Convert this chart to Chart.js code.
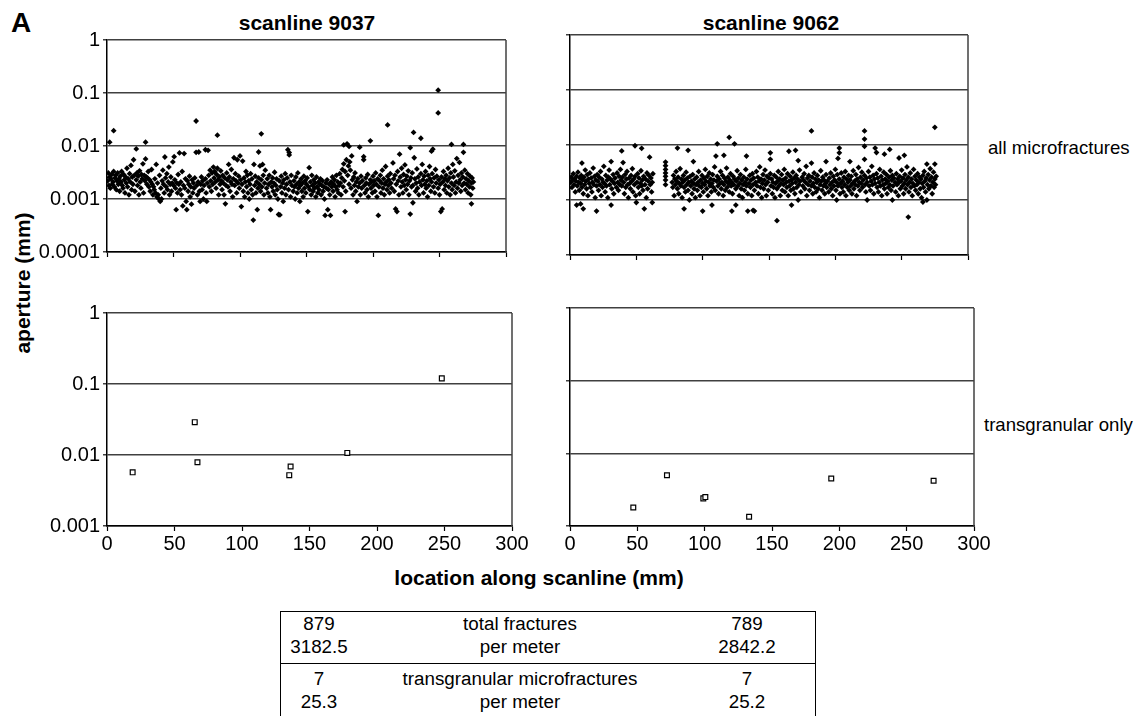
<!DOCTYPE html>
<html>
<head>
<meta charset="utf-8">
<script src="https://cdn.jsdelivr.net/npm/chart.js@4.4.0/dist/chart.umd.min.js"></script>
<style>
  body { margin: 0; background: #fff; font-family: "Liberation Sans", Arial, sans-serif; color: #000; }
  #page { position: relative; width: 1143px; height: 716px; overflow: hidden; }
  .panel { position: absolute; }
  .lbl { position: absolute; white-space: nowrap; line-height: 1; }
  .c { transform: translate(-50%, -50%); }
  #table { position: absolute; left: 280px; top: 611px; width: 534px; height: 120px; border: 1px solid #000; }
  .grp { position: relative; }
  .row { position: relative; height: 23px; font-size: 18.8px; line-height: 23px; }
  .row span { position: absolute; top: 0; text-align: center; }
</style>
</head>
<body>
<div id="page">
  <div class="lbl" style="left:11px; top:9px; font-size:28px; font-weight:bold;">A</div>
  <div class="lbl c" style="left:307px; top:22px; font-size:21px; font-weight:bold;">scanline 9037</div>
  <div class="lbl c" style="left:771px; top:22px; font-size:21px; font-weight:bold;">scanline 9062</div>
  <div class="lbl" style="left:988px; top:139px; font-size:18.6px;">all microfractures</div>
  <div class="lbl" style="left:984px; top:416px; font-size:18.6px;">transgranular only</div>
  <div class="lbl c" style="left:22px; top:283px; font-size:21px; font-weight:bold; transform: translate(-50%, -50%) rotate(-90deg);">aperture (mm)</div>
  <div class="lbl c" style="left:539px; top:577px; font-size:21px; font-weight:bold;">location along scanline (mm)</div>

  <div class="panel" style="left:0px; top:25px;"><canvas id="c9037all" width="516" height="242"></canvas></div>
  <div class="panel" style="left:550px; top:25px;"><canvas id="c9062all" width="428" height="242"></canvas></div>
  <div class="panel" style="left:0px; top:298px;"><canvas id="c9037tg" width="532" height="258"></canvas></div>
  <div class="panel" style="left:550px; top:298px;"><canvas id="c9062tg" width="444" height="258"></canvas></div>

  <div id="table"></div>
</div>

<script>
// location (mm), aperture (mm)
const all9037 = [
  [0.5,.0022],[1,.0031],[1.5,.0018],[2,.0118],[2,.0026],[2.5,.0016],[3,.0024],[3.5,.0029],[4,.0019],[4.5,.0021],[5,.0195],[5,.0033],
  [5.5,.0017],[6,.0025],[6.5,.0028],[7,.0015],[7.5,.0022],[8,.0031],[8.5,.0019],[9,.0024],[9.5,.0014],[10,.0027],
  [10.5,.0021],[11,.0033],[11.5,.0018],[12,.0016],[12.5,.0029],[13,.0023],[13.5,.0013],[14,.0026],[14.5,.0020],[15,.0038],
  [15.5,.0017],[16,.0024],[16.5,.0012],[17,.0030],[17.5,.0021],[18,.0043],[18.5,.0015],[19,.0026],[19.5,.0019],[20,.0055],
  [20.5,.0028],[21,.0014],[22,.0088],[22,.0023],[22.5,.0031],[23,.0018],[23.5,.0027],[24,.0012],[24.5,.0034],[25,.0021],
  [25.5,.0016],[26,.0029],[26.5,.0024],[27,.0046],[27.5,.0013],[28,.0028],[28.5,.0022],[29,.0118],[29,.0057],[29.5,.0026],[30,.0019],
  [30.5,.0025],[31,.0033],[31.5,.0017],[32,.0023],[32.5,.0014],[33,.0021],[33.5,.0036],[34,.0019],[34.5,.0012],[35,.0017],
  [35.5,.0015],[36,.0024],[36.5,.0013],[37,.0045],[37.5,.0011],[38,.0020],[38.5,.0012],[39,.0010],[39.5,.0028],[40,.0009],
  [40.5,.0016],[41,.0010],[41.5,.0022],[42,.0035],[42.5,.0019],[43,.0013],[43.5,.0062],[44,.0025],[44.5,.0017],[45,.0030],
  [45.5,.0015],[46,.0021],[46.5,.0040],[47,.0012],[47.5,.0019],[48,.0026],[48.5,.0014],[49,.0020],[49.5,.0050],[50,.0018],
  [50.5,.0063],[51,.0023],[51.5,.0016],[52,.00063],[52.5,.0020],[53,.0013],[53.5,.0029],[54,.0019],[54.5,.0074],[55,.0015],
  [55.5,.0021],[56,.0012],[56.5,.0033],[57,.00074],[57.5,.0018],[58,.0072],[58.5,.0016],[59,.0024],[59.5,.0009],[60,.00063],
  [60.5,.0022],[61,.0014],[61.5,.0019],[62,.0027],[62.5,.0011],[63,.0017],[63.5,.0008],[64,.0023],[64.5,.0013],[65,.0020],
  [65.5,.0016],[66,.0025],[67,.0296],[67,.0076],[67.5,.0018],[68,.0012],[68.5,.0021],[69,.0077],[69.5,.0014],[70,.0009],
  [70.5,.0019],[71,.0026],[71.5,.0015],[72,.0022],[72.5,.0010],[73,.0018],[74,.0085],[74,.0024],[74.5,.0013],[75,.0009],
  [75.5,.0020],[76,.0083],[76.5,.0028],[77,.0017],[77.5,.0035],[78,.0022],[78.5,.0014],[79,.0031],[79.5,.0019],[80,.0040],
  [80.5,.0025],[81,.0033],[81.5,.0021],[82,.0016],[82.5,.0029],[83,.016],[83,.0038],[83.5,.0023],[84,.0012],[84.5,.0026],[85,.0019],
  [85.5,.0034],[86,.0022],[86.5,.0015],[87,.0028],[87.5,.0020],[88,.0012],[88.5,.0025],[89,.00081],[89.5,.0018],[90,.0031],
  [90.5,.0023],[91,.0017],[91.5,.0045],[92,.0026],[92.5,.0014],[93,.0021],[93.5,.0036],[94,.0019],[94.5,.0011],[95,.0024],
  [95.5,.0060],[96,.0018],[96.5,.0030],[97,.0022],[97.5,.0013],[98,.0055],[98.5,.0020],[99,.0027],[99.5,.0016],[100,.0065],
  [100.5,.0023],[101,.00072],[101.5,.0019],[102,.0052],[102.5,.0014],[103,.0025],[103.5,.0011],[104,.0021],[104.5,.0033],[105,.0017],
  [105.5,.0028],[106,.0013],[106.5,.0022],[107,.0010],[107.5,.0019],[108,.0030],[108.5,.0015],[109,.0024],[109.5,.0012],[110,.0004],
  [110.5,.0045],[111,.0018],[111.5,.0027],[112,.0013],[112.5,.0021],[113,.00063],[113.5,.0016],[114,.0077],[114,.0025],[114.5,.0019],[115,.0042],
  [115.5,.0014],[116,.017],[116,.0023],[116.5,.0017],[117,.0045],[117.5,.0028],[118,.0012],[118.5,.0020],[119,.0035],[120,.0016],
  [120.5,.0024],[121,.0013],[121.5,.0019],[122,.0028],[122.5,.0011],[123,.00063],[123.5,.0021],[124,.0017],[124.5,.0025],[125,.0014],
  [125.5,.0020],[126,.0032],[126.5,.0012],[127,.0018],[127.5,.0024],[128,.0015],[128.5,.0010],[129,.00051],[129.5,.0022],[130,.0005],
  [130.5,.0017],[131,.0027],[131.5,.0013],[132,.0020],[132.5,.0009],[133,.0023],[133.5,.0016],[134,.0030],[134.5,.0012],[135,.0019],
  [135.5,.0025],[136,.0085],[136.5,.0015],[137,.0075],[137,.0068],[137.5,.0021],[138,.0011],[138.5,.0028],[139,.0018],[140,.0014],
  [140.5,.0022],[141,.0017],[141.5,.0010],[142,.0026],[142.5,.0019],[143,.0013],[143.5,.0031],[144,.0016],[144.5,.0021],[145,.0009],
  [145.5,.0018],[146,.0024],[146.5,.0014],[147,.0020],[147.5,.0011],[148,.0027],[148.5,.0016],[149,.0022],[149.5,.0013],[150,.0019],
  [150.5,.0025],[151,.00058],[151.5,.0017],[152,.0039],[152.5,.0015],[153,.0021],[153.5,.0012],[154,.0028],[154.5,.0018],[155,.0014],
  [155.5,.0023],[156,.0016],[156.5,.0020],[157,.0011],[157.5,.0026],[158,.0017],[158.5,.0013],[159,.0021],[159.5,.0015],[160,.0019],
  [160.5,.0024],[161,.0012],[161.5,.0018],[162,.0022],[162.5,.0014],[163,.0017],[163.5,.0010],[164,.00049],[164.5,.0020],[165,.0016],
  [165.5,.0023],[166,.00063],[166.5,.0015],[167,.0019],[167.5,.0012],[168,.00049],[168.5,.0021],[169,.0017],[169.5,.0026],[170,.0014],
  [170.5,.0019],[171,.0023],[171.5,.0011],[172,.0017],[172.5,.0028],[173,.0015],[173.5,.0021],[174,.0013],[174.5,.0018],[175,.0030],
  [175.5,.0020],[176,.0012],[176.5,.0025],[177,.0036],[177.5,.0017],[178,.0105],[178,.0046],[178.5,.0022],[179,.00058],[179,.0033],[179.5,.0014],[180,.0055],
  [180.5,.0110],[181,.0028],[181.5,.0042],[182,.0098],[182,.0019],[182.5,.0050],[183,.0035],[183.5,.0016],[184,.0065],[184.5,.0023],[185,.0012],
  [185.5,.0026],[186,.0018],[186.5,.0031],[187,.0014],[187.5,.0021],[188,.0009],[188.5,.0024],[189,.0017],[190,.0095],[190,.0020],
  [190.5,.0012],[191,.0027],[191.5,.0016],[192,.0022],[193,.0063],[193,.0055],[193.5,.0018],[194,.0013],[194.5,.0025],[195,.0020],
  [195.5,.0015],[196,.0029],[196.5,.0011],[197,.0019],[198,.0125],[198,.0023],[198.5,.0016],[199,.0021],[199.5,.0013],[200,.0027],
  [200.5,.0018],[201,.0022],[201.5,.0014],[202,.0031],[202.5,.0019],[203,.0011],[203.5,.0024],[204,.00049],[204.5,.0017],[205,.0022],
  [205.5,.0028],[206,.0013],[206.5,.0020],[207,.0035],[207.5,.0016],[208,.0024],[208.5,.0012],[209,.0019],[209.5,.0041],[210,.0021],
  [210.5,.0015],[211,.025],[211,.0027],[211.5,.0018],[212,.0023],[212.5,.0013],[213,.0030],[213.5,.0020],[214,.0016],[215,.0048],
  [215.5,.0024],[216,.0014],[216.5,.0028],[217,.00065],[217.5,.0019],[218,.00058],[218.5,.0033],[219,.0022],[219.5,.0012],[220,.0070],
  [220.5,.0026],[221,.0017],[221.5,.0038],[222,.0021],[222.5,.0013],[223,.0029],[223.5,.0018],[224,.0044],[224.5,.0023],[225,.0015],
  [225.5,.0027],[226,.0019],[226.5,.0034],[227,.0012],[227.5,.0022],[228,.0093],[228,.00052],[228.5,.0025],[229,.0017],[229.5,.0031],[230,.0018],
  [230,.00085],[230.5,.018],[231,.0060],[231.5,.0024],[232,.0014],[232.5,.0020],[233,.0037],[233.5,.0016],[234,.0026],[234.5,.0012],[235,.0021],
  [236,.014],[236,.0030],[236.5,.0018],[237,.0045],[237.5,.0023],[238,.0013],[238.5,.0027],[239,.0019],[239.5,.0033],[240,.0016],
  [240.5,.0022],[241,.0011],[241.5,.0028],[242,.0018],[242.5,.0041],[243,.0024],[243.5,.0014],[244,.0080],[244,.0021],[244.5,.0030],[245,.0087],
  [245.5,.0017],[246,.0025],[246.5,.0013],[247,.0036],[247.5,.0020],[248,.0027],[249,.113],[249,.042],[249,.0016],[249.5,.0023],[250,.0012],
  [250.5,.0019],[251,.00058],[251.5,.0026],[252,.00065],[252.5,.0021],[253,.0033],[253.5,.0015],[254,.0024],[254.5,.0018],[255,.0028],
  [255.5,.0013],[256,.0022],[256.5,.0038],[257,.0017],[257.5,.0025],[258,.0012],[258.5,.0031],[259,.0107],[259,.0020],[259.5,.0015],[260,.0045],
  [260.5,.0026],[261,.0018],[261.5,.0034],[262,.0013],[262.5,.0021],[263,.0058],[263.5,.0016],[264,.0028],[264.5,.0020],[265,.0049],
  [265.5,.0023],[266,.0014],[266.5,.0031],[267,.0018],[267.5,.0026],[268,.0107],[268,.0076],[268.5,.0020],[269,.0035],[269.5,.0015],[270,.0024],
  [270.5,.0019],[271,.0030],[271.5,.0013],[272,.0022],[272.5,.0017],[273,.0027],[273.5,.0012],[274,.00081],[274,.0020],[274.5,.0025],[275,.0016],[275.5,.0021]
];

const all9062 = [
  [0.5,.0021],[1,.0026],[1.5,.0017],[2,.0023],[2.5,.0030],[3,.0019],[3.5,.0024],[4,.0014],[4.5,.0022],[5,.00081],[5,.0027],
  [5.5,.0018],[6,.0032],[6.5,.0021],[7,.0015],[7.5,.0025],[8,.00085],[8,.0020],[8.5,.0028],[9,.0047],[9,.0017],[9.5,.0023],[10,.00069],[10,.0013],
  [10.5,.0026],[11,.0019],[11.5,.0035],[12,.0022],[12.5,.0016],[13,.0029],[13.5,.0012],[14,.0024],[14.5,.0020],[15,.0031],
  [15.5,.0017],[16,.0025],[16.5,.0014],[17,.0021],[17.5,.0038],[18,.0019],[18.5,.0027],[19,.0011],[19.5,.0023],[20,.00063],[20,.0018],
  [20.5,.0029],[21,.0022],[21.5,.0015],[22,.0026],[22.5,.0019],[23,.0033],[23.5,.0012],[24,.0024],[24.5,.0017],[25,.0021],
  [25.5,.0041],[26,.0020],[26.5,.0014],[27,.0028],[27.5,.0018],[28,.0023],[28.5,.0011],[29,.0026],[29.5,.0035],[30,.0019],
  [30.5,.0024],[31,.0050],[31,.00081],[31.5,.0016],[32,.0022],[32.5,.0029],[33,.0013],[33.5,.0020],[34,.0025],[35,.0017],
  [35.5,.0031],[36,.0021],[36.5,.0015],[37,.0027],[37.5,.0019],[38,.0036],[38.5,.0023],[39,.0078],[39,.0018],[39.5,.0026],[40,.0048],
  [40.5,.0021],[41,.0013],[41.5,.0029],[42,.0017],[42.5,.0024],[43,.0033],[43.5,.0019],[44,.0011],[44.5,.0025],[45,.0020],
  [45.5,.0016],[46,.0028],[46.5,.0022],[47,.0037],[47.5,.0014],[48,.0024],[48.5,.0019],[49,.0097],[49,.0027],[49.5,.0012],[50,.0009],
  [50.5,.0021],[51,.0030],[51.5,.0017],[52,.0025],[52.5,.0013],[53,.0020],[53.5,.0034],[54,.0087],[54,.0018],[54.5,.0023],[55,.0015],
  [55.5,.0027],[56,.00069],[56.5,.0019],[57,.0024],[57.5,.0011],[58,.0031],[58.5,.0016],[59,.0022],[59.5,.0028],[60,.0060],
  [60.5,.0019],[61,.0025],[61.5,.0014],[62,.0009],[62,.0021],[62.5,.0030],
  [72,.0049],[72,.0042],[72,.0036],[72,.0031],[72,.0027],[72,.0023],[72,.0019],
  [77,.0021],[77.5,.0017],[78,.0028],[78.5,.0012],[79,.0024],[79.5,.0019],[80,.0033],
  [80.5,.0022],[81,.0088],[81,.0016],[81.5,.0026],[82,.0013],[82.5,.0020],[83,.0037],[83.5,.0018],[84,.0024],[84.5,.0011],[85,.0021],
  [85.5,.0028],[86,.00069],[86,.0017],[86.5,.0023],[87,.0014],[87.5,.0032],[88,.0019],[88.5,.0025],[89,.0080],[89,.0015],[89.5,.0021],[90,.0010],
  [90.5,.0027],[91,.0018],[91.5,.0022],[92,.0013],[92.5,.0029],[93,.0050],[93,.0020],[93.5,.0016],[94,.0024],[94.5,.0011],[95,.0019],
  [95.5,.0026],[96,.0015],[96.5,.0021],[97,.0033],[97.5,.0018],[98,.0012],[98.5,.0023],[99,.0017],[99.5,.0028],[100,.00063],[100,.0020],
  [100.5,.0014],[101,.0025],[101.5,.0019],[102,.0036],[102.5,.0022],[103,.0016],[103.5,.0027],[104,.0012],[104.5,.0021],[105,.0031],
  [105.5,.0018],[106,.0024],[106.5,.0014],[107,.00081],[107,.0020],[107.5,.0029],[108,.0017],[108.5,.0023],[109,.0040],[109.5,.0015],[110,.0063],
  [110.5,.0022],[111,.0105],[111,.0027],[111.5,.0018],[112,.0013],[112.5,.0024],[113,.0020],[113.5,.0033],[114,.0016],[114.5,.0021],[115,.0028],
  [115.5,.0012],[116,.0065],[116,.0019],[116.5,.0025],[117,.0015],[117.5,.0022],[118,.0038],[118.5,.0017],[119,.0026],[119.5,.0020],[120,.0138],
  [120,.0014],[120.5,.0023],[121,.0030],[121.5,.0018],[122,.00063],[122,.0021],[122.5,.0013],[123,.0027],[123.5,.0019],[124,.0105],[124,.0024],[125,.00081],[125,.0016],
  [125.5,.0022],[126,.0034],[126.5,.0018],[127,.0025],[127.5,.0012],[128,.0020],[128.5,.0029],[129,.0016],[129.5,.0023],[130,.0011],
  [130.5,.0019],[131,.0026],[131.5,.0015],[132,.0021],[132.5,.0036],[133,.0063],[133,.0018],[133.5,.0024],[134,.00063],[134,.0013],[135,.0020],
  [135.5,.0028],[136,.0017],[136.5,.0023],[137,.0012],[137.5,.0030],[138,.00065],[138,.0019],[138.5,.0025],[139,.00063],[139,.0015],[140,.0021],
  [140.5,.0033],[141,.0018],[141.5,.0026],[142,.0013],[142.5,.0022],[143,.0040],[143.5,.0017],[144,.0024],[144.5,.0011],[145,.0020],
  [145.5,.0029],[146,.0016],[146.5,.0023],[147,.0035],[147.5,.0019],[148,.0012],[148.5,.0027],[149,.0021],[149.5,.0015],[150,.0025],
  [151,.0072],[151,.0055],[151,.0030],[151.5,.0018],[152,.0024],[152.5,.0013],[153,.0021],[153.5,.0017],[154,.0028],[154.5,.0011],[155,.0020],
  [155.5,.0026],[156,.00042],[156,.0016],[156.5,.0022],[157,.0033],[157.5,.0018],[158,.0024],[158.5,.0012],[159,.0020],[159.5,.0029],[160,.0015],
  [160.5,.0023],[161,.0019],[161.5,.0036],[162,.0014],[162.5,.0025],[163,.0021],[163.5,.0017],[164,.0030],[164.5,.0012],[165,.0077],[165,.0022],
  [165.5,.0018],[166,.0027],[166.5,.0015],[167,.00081],[167,.0023],[167.5,.0020],[168,.0032],[168.5,.0016],[169,.0025],[169.5,.0013],[170,.0080],
  [170,.0021],[170.5,.0028],[171,.0017],[171.5,.0024],[172,.0052],[172,.0010],[172.5,.0019],[173,.0035],[173.5,.0022],[174,.0014],[175,.0026],
  [175.5,.0018],[176,.0023],[176.5,.0030],[177,.0016],[177.5,.0021],[178,.0041],[178.5,.0012],[179,.0025],[179.5,.0019],[180,.0028],
  [180.5,.0015],[181,.0022],[182,.018],[182,.0047],[182,.0018],[182.5,.0026],[183,.0013],[183.5,.0020],[184,.0031],[184.5,.0017],[185,.0024],
  [185.5,.0014],[186,.0021],[186.5,.0028],[187,.0016],[187.5,.0023],[188,.0011],[188.5,.0019],[189,.0034],[189.5,.0022],[190,.0015],
  [190.5,.0026],[191,.0018],[191.5,.0023],[192,.0013],[192.5,.0020],[193,.0050],[193,.0029],[193.5,.0017],[194,.0022],[195,.0014],
  [195.5,.0025],[196,.0019],[196.5,.0031],[197,.0016],[197.5,.0021],[198,.0012],[198.5,.0027],[199,.0018],[199.5,.0023],[200,.0036],
  [200.5,.0015],[201,.0010],[201,.0021],[201.5,.0029],[202,.0057],[202,.0018],[203,.0088],[203,.0072],[203,.0024],[203.5,.0013],[204,.0020],[204.5,.0031],[205,.0017],
  [205.5,.0022],[206,.0014],[206.5,.0026],[207,.0019],[207.5,.0033],[208,.0012],[208.5,.0024],[209,.0017],[209.5,.0021],[210,.0028],
  [210.5,.0015],[211,.0050],[211,.0023],[211.5,.0018],[212,.0027],[212.5,.0013],[213,.0020],[213.5,.0034],[214,.0016],[214.5,.0022],[215,.0019],
  [215.5,.0029],[216,.0012],[216.5,.0024],[217,.0018],[217.5,.0039],[218,.0021],[218.5,.0015],[219,.0026],[219.5,.0020],[220,.0032],
  [220.5,.0017],[221,.0023],[222,.018],[222,.0128],[222,.0095],[222,.0055],[222,.0028],[222.5,.0019],[223,.0014],[223.5,.0025],[224,.0010],[224,.0021],[225,.0033],
  [225.5,.0018],[226,.0026],[226.5,.0015],[227,.0022],[227.5,.0041],[228,.0019],[228.5,.0028],[229,.0013],[229.5,.0024],[230,.0088],
  [230,.0020],[231,.0073],[231,.0030],[231.5,.0017],[232,.0025],[232.5,.0014],[233,.0021],[233.5,.0036],[234,.0018],[234.5,.0027],[235,.0012],
  [235.5,.0023],[236,.0019],[236.5,.0032],[237,.0068],[237,.0016],[237.5,.0024],[238,.0020],[238.5,.0029],[239,.0013],[239.5,.0022],[240,.0017],
  [240.5,.0026],[241,.0083],[241,.0019],[241.5,.0034],[242,.0015],[242.5,.0023],[243,.0010],[243,.0028],[243.5,.0018],[244,.0025],[245,.0021],
  [245.5,.0014],[246,.0030],[246.5,.0019],[247,.0024],[247.5,.0012],[248,.0058],[248,.0021],[248.5,.0027],[249,.0016],[249.5,.0022],[250,.0035],
  [250.5,.0018],[251,.0025],[251.5,.0013],[252,.0065],[252,.0020],[252.5,.0029],[253,.0016],[253.5,.0023],[254,.0040],[254.5,.0019],[255,.00049],[255,.0026],
  [255.5,.0014],[256,.0021],[256.5,.0031],[257,.0017],[257.5,.0024],[258,.0012],[258.5,.0020],[259,.0036],[259.5,.0018],[260,.0027],
  [260.5,.0015],[261,.0023],[261.5,.0019],[262,.0030],[262.5,.0013],[263,.0021],[263.5,.0026],[264,.0016],[264.5,.0024],[265,.0011],
  [265.5,.0020],[266,.00092],[266,.0028],[266.5,.0017],[267,.0033],[267.5,.0022],[268,.0014],[268.5,.0025],[269,.0045],[269,.0010],[269.5,.0019],[270,.0029],
  [270.5,.0016],[271,.0023],[271.5,.0037],[272,.0018],[272.5,.0026],[273,.0013],[273.5,.0021],[274,.0032],[274.5,.0017],[275,.021],[275,.0045],[275,.0024],[275.5,.0019],[276,.0027]
];

// transgranular microfractures only
const tg9037 = [[19, 0.0057], [65, 0.029], [67, 0.0079], [135, 0.0052], [136, 0.0069], [178, 0.0107], [248, 0.12]];
const tg9062 = [[47, 0.0018], [72, 0.0050], [99, 0.0024], [100.5, 0.0025], [133, 0.00134], [194, 0.0045], [270, 0.0042]];

const xTicks = [0, 50, 100, 150, 200, 250, 300];
const yTicksAll = [0.0001, 0.001, 0.01, 0.1, 1];
const yTicksTg = [0.001, 0.01, 0.1, 1];

const tableLabels = ['total fractures', 'per meter', 'transgranular microfractures', 'per meter'];
const counts9037 = ['879', '3182.5', '7', '25.3'];
const counts9062 = ['789', '2842.2', '7', '25.2'];

Chart.defaults.font.family = '"Liberation Sans", Arial, sans-serif';
Chart.defaults.font.size = 20;
Chart.defaults.color = '#000';

const gridGrey = '#404040';

const framePlugin = {
    id: 'frame',
    afterDraw(chart) {
        const a = chart.chartArea;
        const ctx = chart.ctx;
        ctx.save();
        ctx.strokeStyle = gridGrey;
        ctx.lineWidth = 1.5;
        ctx.beginPath();
        ctx.moveTo(a.right, a.top);
        ctx.lineTo(a.right, a.bottom);
        ctx.stroke();
        ctx.restore();
    }
};

function makePanel(id, points, opts) {
    const ctx = document.getElementById(id).getContext('2d');
    const yTicks = opts.yTicks;
    return new Chart(ctx, {
        type: 'scatter',
        data: {
            datasets: [{
                data: points.map(p => ({ x: p[0], y: p[1] })),
                pointStyle: opts.open ? 'rect' : 'rectRot',
                pointRadius: opts.open ? 3.4 : 2.9,
                backgroundColor: opts.open ? '#fff' : '#000',
                borderColor: '#000',
                borderWidth: opts.open ? 1.2 : 0
            }]
        },
        options: {
            responsive: false,
            animation: false,
            events: [],
            layout: { padding: { top: 10, right: opts.rightPad, left: 0, bottom: 0 } },
            plugins: { legend: { display: false }, tooltip: { enabled: false } },
            scales: {
                x: {
                    type: 'linear',
                    min: 0,
                    max: 300,
                    afterBuildTicks: s => { s.ticks = xTicks.map(v => ({ value: v })); },
                    afterFit: s => { s.height = opts.xHeight; },
                    ticks: { display: opts.xLabels, padding: 1, maxRotation: 0 },
                    grid: { drawOnChartArea: false, drawTicks: true, tickLength: 5, tickColor: '#000', tickWidth: 1.2 },
                    border: { display: true, color: '#000', width: 1.5 }
                },
                y: {
                    type: 'logarithmic',
                    min: yTicks[0],
                    max: yTicks[yTicks.length - 1],
                    afterBuildTicks: s => { s.ticks = yTicks.map(v => ({ value: v })); },
                    afterFit: s => { s.width = opts.yWidth; },
                    ticks: { display: opts.yLabels, padding: 3, callback: v => String(v) },
                    grid: { color: gridGrey, lineWidth: 1.5, drawTicks: true, tickLength: 4, tickColor: gridGrey },
                    border: { display: true, color: '#000', width: 1.5 }
                }
            }
        },
        plugins: [framePlugin]
    });
}

makePanel('c9037all', all9037, { yTicks: yTicksAll, yWidth: 107, xHeight: 12, rightPad: 10, xLabels: false, yLabels: true, open: false });
makePanel('c9062all', all9062, { yTicks: yTicksAll, yWidth: 20, xHeight: 12, rightPad: 10, xLabels: false, yLabels: false, open: false });
makePanel('c9037tg', tg9037, { yTicks: yTicksTg, yWidth: 107, xHeight: 30, rightPad: 20, xLabels: true, yLabels: true, open: true });
makePanel('c9062tg', tg9062, { yTicks: yTicksTg, yWidth: 20, xHeight: 30, rightPad: 20, xLabels: true, yLabels: false, open: true });

// summary table under the plots
const table = document.getElementById('table');
function addGroup(start, padTop, padBottom, lastBorder) {
    const g = document.createElement('div');
    g.className = 'grp';
    g.style.paddingTop = padTop + 'px';
    g.style.paddingBottom = padBottom + 'px';
    if (lastBorder) g.style.borderBottom = '1px solid #000';
    for (let i = start; i < start + 2; i++) {
        const row = document.createElement('div');
        row.className = 'row';
        row.innerHTML =
            '<span style="left:0;width:76px">' + counts9037[i] + '</span>' +
            '<span style="left:89px;width:300px">' + tableLabels[i] + '</span>' +
            '<span style="left:416px;width:100px">' + counts9062[i] + '</span>';
        g.appendChild(row);
    }
    table.appendChild(g);
}
addGroup(0, 0, 5, true);
addGroup(2, 3, 0, false);
</script>
</body>
</html>
